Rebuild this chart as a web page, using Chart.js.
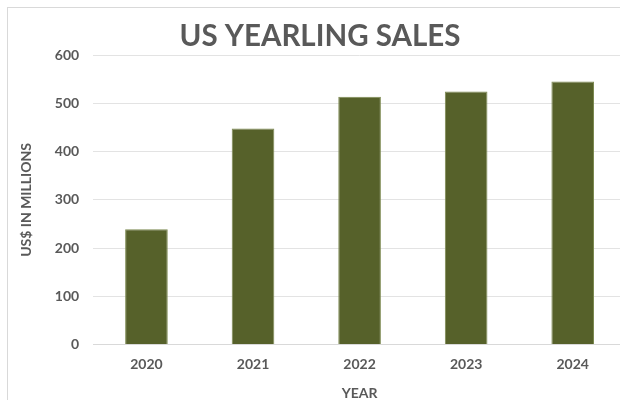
<!DOCTYPE html>
<html>
<head>
<meta charset="utf-8">
<script src="https://cdn.jsdelivr.net/npm/chart.js@4.4.1/dist/chart.umd.min.js"></script>
<style>
    body { margin: 0; overflow: hidden; background: #fff; }
    .chart-box {
        position: absolute;
        left: 7px;
        top: 7px;
        width: 632px;
        height: 400px;
        border: 1px solid #d9d9d9;
    }
</style>
</head>
<body>
<div class="chart-box">
    <canvas id="salesChart" width="632" height="400"></canvas>
</div>
<script>
    // values
    const years = ['2020', '2021', '2022', '2023', '2024'];
    const salesMillions = [239, 448, 514, 525, 546];
    const yTicks = [0, 100, 200, 300, 400, 500, 600];

    const textColor = '#595959';
    const barColor = '#56612a';
    const fontFamily = 'Lato, "Open Sans", sans-serif';

    const ctx = document.getElementById('salesChart');
    const chart = new Chart(ctx, {
        type: 'bar',
        data: {
            labels: years,
            datasets: [{
                label: 'US Yearling Sales',
                data: salesMillions,
                backgroundColor: barColor,
                borderColor: '#7d8a52',
                borderWidth: 1,
                barPercentage: 0.4,
                categoryPercentage: 1
            }]
        },
        options: {
            responsive: false,
            animation: false,
            layout: {
                padding: { left: 6, right: 14, top: 0, bottom: 0 }
            },
            plugins: {
                legend: { display: false },
                tooltip: { enabled: false },
                title: {
                    display: true,
                    text: 'US YEARLING SALES',
                    color: textColor,
                    font: { family: fontFamily, size: 29.5, weight: 'bold' },
                    padding: { top: 11, bottom: 1 }
                }
            },
            scales: {
                x: {
                    grid: { display: false, drawTicks: false },
                    border: { display: true, color: '#d9d9d9' },
                    ticks: {
                        color: textColor,
                        padding: 12,
                        font: { family: fontFamily, size: 14, weight: 'bold' }
                    },
                    title: {
                        display: true,
                        text: 'YEAR',
                        color: textColor,
                        font: { family: fontFamily, size: 14, weight: 'bold' },
                        padding: { top: 0, bottom: 6 }
                    }
                },
                y: {
                    min: 0,
                    max: 600,
                    afterBuildTicks: (scale) => {
                        scale.ticks = yTicks.map(v => ({ value: v }));
                    },
                    grid: { color: '#e3e3e3', drawTicks: false },
                    border: { display: false },
                    ticks: {
                        color: textColor,
                        padding: 14,
                        font: { family: fontFamily, size: 14, weight: 'bold' }
                    },
                    title: {
                        display: true,
                        text: 'US$ IN MILLIONS',
                        color: textColor,
                        font: { family: fontFamily, size: 14, weight: 'bold' },
                        padding: { top: 4, bottom: 6 }
                    }
                }
            }
        }
    });
</script>
</body>
</html>
